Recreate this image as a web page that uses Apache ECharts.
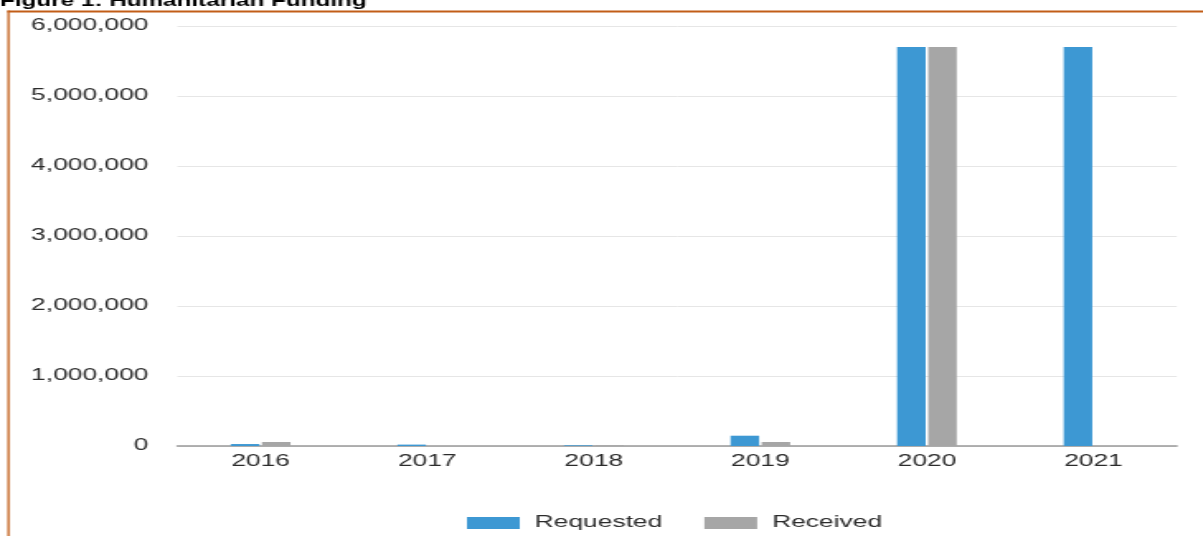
<!DOCTYPE html>
<html>
<head>
<meta charset="utf-8">
<script src="https://cdn.jsdelivr.net/npm/echarts@6/dist/echarts.min.js"></script>
<style>
  html, body { margin: 0; padding: 0; background: #fff; overflow: hidden; }
  /* the reference picture is stretched sideways, so the chart is drawn narrow and scaled */
  #chart { width: 729px; height: 536px; transform: scaleX(1.65); transform-origin: 0 0; }
</style>
</head>
<body>
<div id="chart"></div>
<script>
const years = ["2016", "2017", "2018", "2019", "2020", "2021"];
const requested = [28000, 20000, 10000, 147000, 5700000, 5700000];
const received = [57000, 0, 10000, 57000, 5700000, 0];

const borderColor = "#c25d17";
const labelFont = "Liberation Sans, Arial, sans-serif";
const labelColor = "#2b2b2b";

const chart = echarts.init(document.getElementById("chart"));

chart.setOption({
  animation: false,
  grid: { left: 107.5, right: 15.8, top: 26, bottom: 90 },
  legend: {
    left: 278,
    top: 510,
    itemWidth: 32,
    itemHeight: 12,
    itemGap: 25.5,
    icon: "rect",
    textStyle: {
      fontSize: 16,
      fontFamily: labelFont,
      color: labelColor,
      padding: [0, 0, 0, 4],
    },
    data: ["Requested", "Received"],
  },
  xAxis: {
    type: "category",
    data: years,
    axisTick: { show: false },
    axisLine: { lineStyle: { color: "#999", width: 1.5 } },
    axisLabel: { fontSize: 16, fontFamily: labelFont, color: labelColor, margin: 8 },
  },
  yAxis: {
    type: "value",
    min: 0,
    max: 6000000,
    interval: 1000000,
    axisLine: { show: false },
    axisTick: { show: false },
    splitLine: { lineStyle: { color: "#e6e6e6", width: 1 } },
    axisLabel: {
      fontSize: 16,
      fontFamily: labelFont,
      color: labelColor,
      margin: 17.5,
      formatter: (v) => v.toLocaleString("en-US"),
    },
  },
  series: [
    {
      name: "Requested",
      type: "bar",
      data: requested,
      barWidth: 17.3,
      barGap: "9%",
      itemStyle: { color: "#3d98d3" },
    },
    {
      name: "Received",
      type: "bar",
      data: received,
      barWidth: 17.3,
      itemStyle: { color: "#a6a6a6" },
    },
  ],
  graphic: [
    // caption above the frame, cut by the top of the picture
    {
      type: "text",
      x: 0,
      y: 1.1,
      scaleX: 0.865,
      style: {
        text: "Figure 1: Humanitarian Funding",
        font: "bold 17px Liberation Sans, Arial, sans-serif",
        fill: "#000",
        verticalAlign: "middle",
      },
    },
    // orange frame (top and left edges)
    { type: "rect", shape: { x: 4.5, y: 10.5, width: 800, height: 2 }, style: { fill: borderColor } },
    { type: "rect", shape: { x: 4.5, y: 10.5, width: 1.3, height: 600 }, style: { fill: borderColor } },
  ],
});

window.addEventListener("resize", function () {
  chart.resize();
});
</script>
</body>
</html>
